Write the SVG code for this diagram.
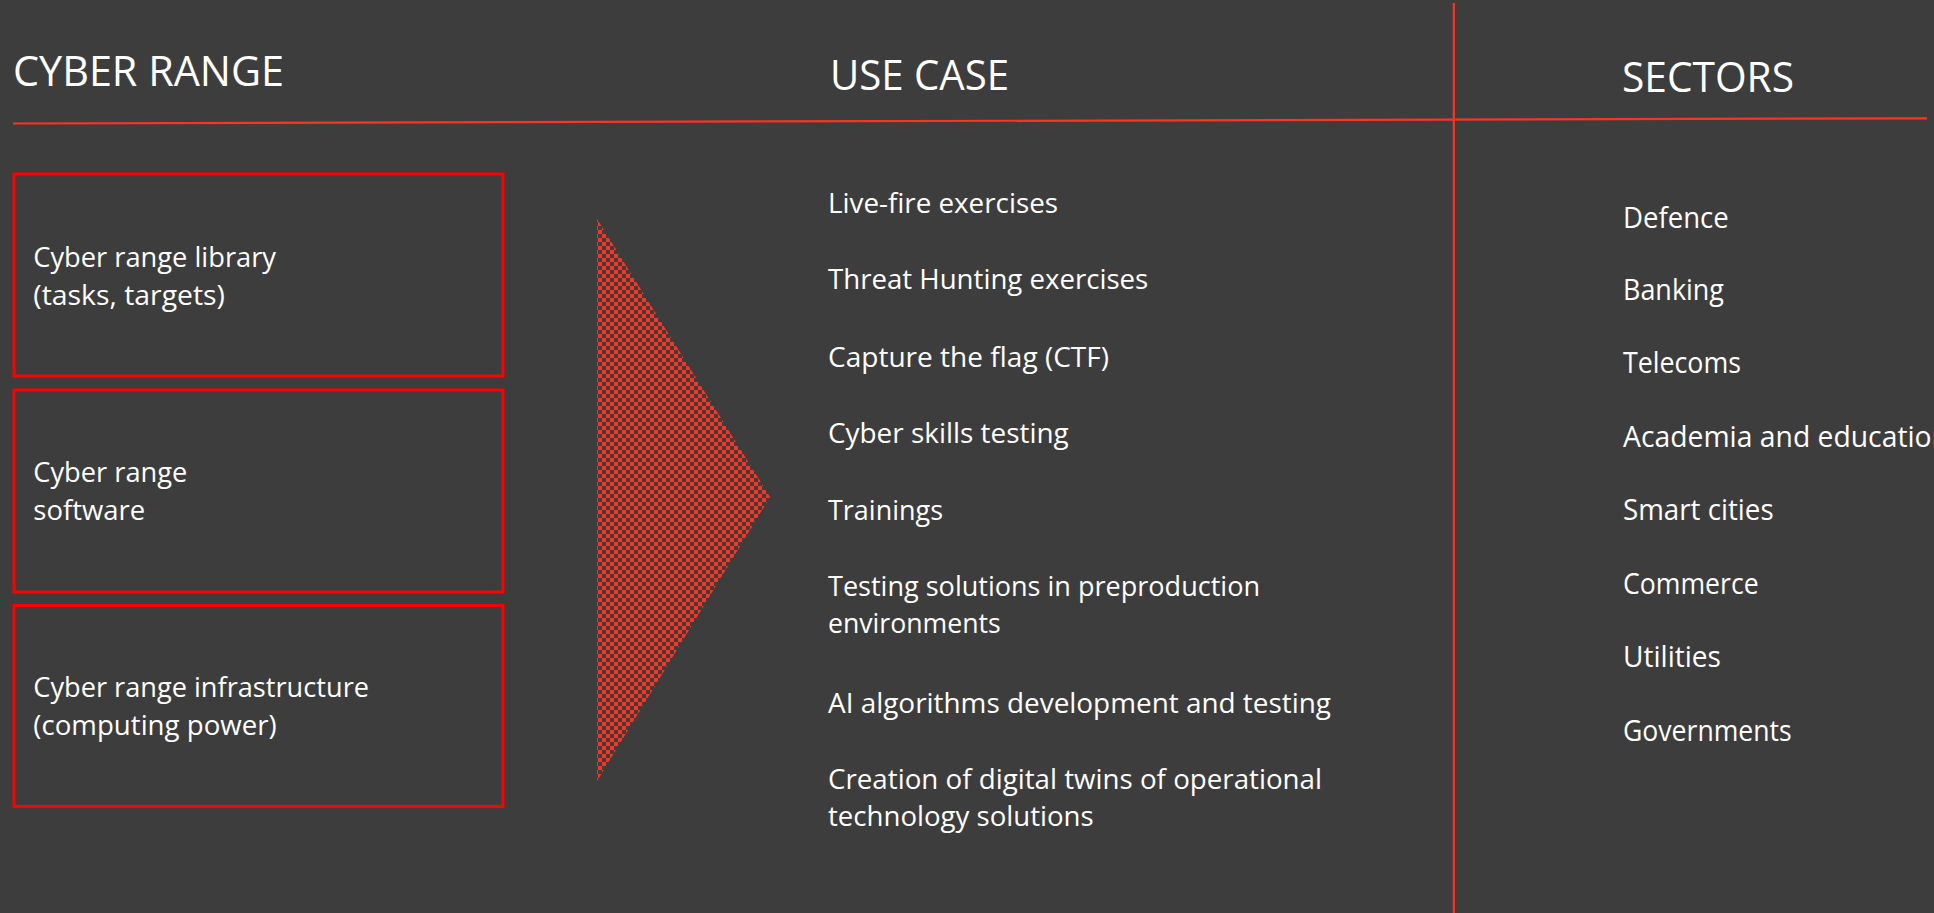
<svg xmlns="http://www.w3.org/2000/svg" width="1934" height="913" viewBox="0 0 1934 913">
  <style>
    .bg { fill: #3d3d3d; }
    .hdr { font-family: "Open Sans", "Noto Sans", sans-serif; font-size: 42px; fill: #ffffff; }
    .txt { font-family: "Open Sans", "Noto Sans", sans-serif; font-size: 27px; fill: #ffffff; }
    .sec { font-family: "Open Sans", "Noto Sans", sans-serif; font-size: 29px; fill: #ffffff; }
    .box { fill: none; stroke: #ff0000; stroke-width: 3; }
    .sep { stroke: #ff3322; stroke-width: 2.2; fill: none; }
  </style>
  <defs>
    <pattern id="checker" x="0" y="0" width="8" height="8" patternUnits="userSpaceOnUse">
      <rect x="0" y="0" width="2" height="2" fill="#ff3322"/>
      <rect x="6" y="0" width="2" height="2" fill="#ff3322"/>
      <rect x="2" y="2" width="4" height="2" fill="#ff3322"/>
      <rect x="2" y="4" width="4" height="2" fill="#ff3322"/>
      <rect x="0" y="6" width="2" height="2" fill="#ff3322"/>
      <rect x="6" y="6" width="2" height="2" fill="#ff3322"/>
    </pattern>
  </defs>
  <rect class="bg" x="0" y="0" width="1934" height="913"/>

  <g id="connectors">
    <line class="sep" x1="13" y1="123.5" x2="1927" y2="118.3"/>
    <line class="sep" x1="1453.8" y1="3" x2="1453.8" y2="913"/>
    <polygon id="arrow" points="597,219 770,497 597,781" fill="url(#checker)"/>
  </g>

  <g id="header-cyber-range">
    <text class="hdr" x="13" y="86" textLength="271" lengthAdjust="spacingAndGlyphs">CYBER RANGE</text>
  </g>
  <g id="header-use-case">
    <text class="hdr" x="830" y="90" textLength="179" lengthAdjust="spacingAndGlyphs">USE CASE</text>
  </g>
  <g id="header-sectors">
    <text class="hdr" x="1622" y="91.7" textLength="172" lengthAdjust="spacingAndGlyphs">SECTORS</text>
  </g>

  <g id="box-library">
    <rect class="box" x="14" y="174" width="489" height="202"/>
    <text class="txt" x="33.3" y="266.7" textLength="242.7" lengthAdjust="spacingAndGlyphs">Cyber range library</text>
    <text class="txt" x="33.3" y="305" textLength="191.7" lengthAdjust="spacingAndGlyphs">(tasks, targets)</text>
  </g>
  <g id="box-software">
    <rect class="box" x="14" y="390" width="489" height="202"/>
    <text class="txt" x="33.3" y="481.7" textLength="154" lengthAdjust="spacingAndGlyphs">Cyber range</text>
    <text class="txt" x="33.3" y="520" textLength="111.8" lengthAdjust="spacingAndGlyphs">software</text>
  </g>
  <g id="box-infrastructure">
    <rect class="box" x="14" y="605.5" width="489" height="201"/>
    <text class="txt" x="33.3" y="697.3" textLength="335.7" lengthAdjust="spacingAndGlyphs">Cyber range infrastructure</text>
    <text class="txt" x="33.3" y="735" textLength="243.4" lengthAdjust="spacingAndGlyphs">(computing power)</text>
  </g>

  <g id="use-cases">
    <text class="txt" x="828" y="212.7" textLength="230" lengthAdjust="spacingAndGlyphs">Live-fire exercises</text>
    <text class="txt" x="828" y="288.8" textLength="320.3" lengthAdjust="spacingAndGlyphs">Threat Hunting exercises</text>
    <text class="txt" x="828" y="366.5" textLength="281" lengthAdjust="spacingAndGlyphs">Capture the flag (CTF)</text>
    <text class="txt" x="828" y="443.3" textLength="240.7" lengthAdjust="spacingAndGlyphs">Cyber skills testing</text>
    <text class="txt" x="828" y="520" textLength="115" lengthAdjust="spacingAndGlyphs">Trainings</text>
    <text class="txt" x="828" y="596" textLength="432" lengthAdjust="spacingAndGlyphs">Testing solutions in preproduction</text>
    <text class="txt" x="828" y="633.3" textLength="172.8" lengthAdjust="spacingAndGlyphs">environments</text>
    <text class="txt" x="828" y="713" textLength="503" lengthAdjust="spacingAndGlyphs">AI algorithms development and testing</text>
    <text class="txt" x="828" y="789" textLength="494" lengthAdjust="spacingAndGlyphs">Creation of digital twins of operational</text>
    <text class="txt" x="828" y="826" textLength="265.7" lengthAdjust="spacingAndGlyphs">technology solutions</text>
  </g>

  <g id="sectors">
    <text class="sec" x="1623" y="227.8" textLength="105.7" lengthAdjust="spacingAndGlyphs">Defence</text>
    <text class="sec" x="1623" y="300" textLength="101" lengthAdjust="spacingAndGlyphs">Banking</text>
    <text class="sec" x="1623" y="373.3" textLength="118" lengthAdjust="spacingAndGlyphs">Telecoms</text>
    <text class="sec" x="1623" y="446.7" textLength="326" lengthAdjust="spacingAndGlyphs">Academia and education</text>
    <text class="sec" x="1623" y="520.3" textLength="150.6" lengthAdjust="spacingAndGlyphs">Smart cities</text>
    <text class="sec" x="1623" y="593.5" textLength="135.6" lengthAdjust="spacingAndGlyphs">Commerce</text>
    <text class="sec" x="1623" y="667" textLength="98" lengthAdjust="spacingAndGlyphs">Utilities</text>
    <text class="sec" x="1623" y="740.5" textLength="168.7" lengthAdjust="spacingAndGlyphs">Governments</text>
  </g>
</svg>
